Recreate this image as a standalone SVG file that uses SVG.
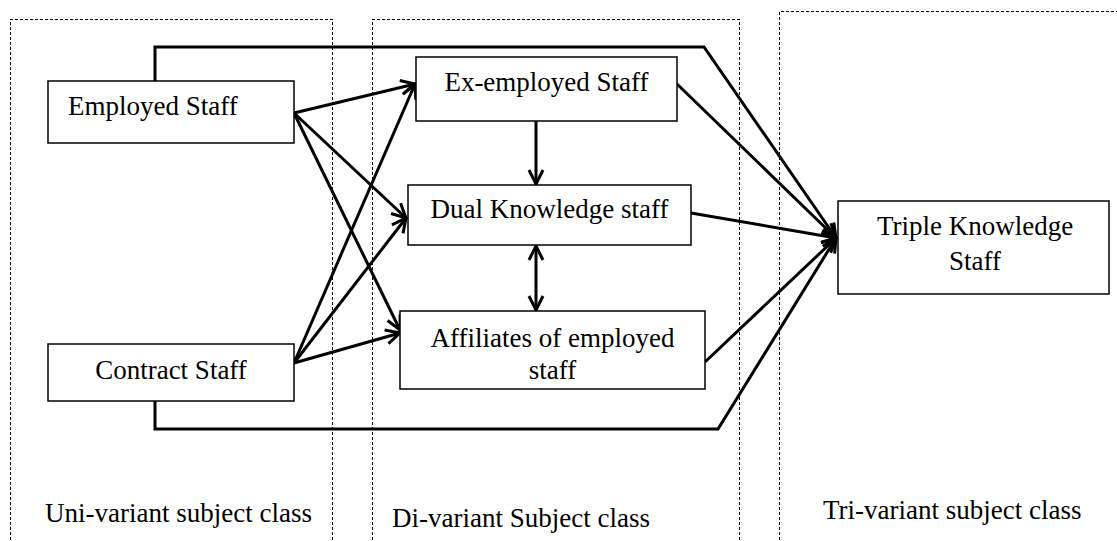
<svg xmlns="http://www.w3.org/2000/svg" width="1117" height="541" viewBox="0 0 1117 541">
<style>
.panel{fill:none;stroke:#000;stroke-width:1;stroke-dasharray:3 2;shape-rendering:crispEdges}
.box{fill:#fff;stroke:#000;stroke-width:1.5}
.t{font-family:"Liberation Serif","Times New Roman",serif;font-size:27px;fill:#000}
.c{fill:none;stroke:#000;stroke-width:3}
.a{marker-end:url(#arr)}
</style>
<defs>
<marker id="arr" viewBox="0 0 18 18" refX="16" refY="9" markerWidth="18" markerHeight="18" markerUnits="userSpaceOnUse" orient="auto-start-reverse">
<path d="M2,2 L16,9 L2,16" fill="none" stroke="#000" stroke-width="3"/>
</marker>
</defs>
<rect width="1117" height="541" fill="#fff"/>
<g id="panels">
<path class="panel" d="M10.5,545 V19.5 H332.5 V545"/>
<path class="panel" d="M372.5,545 V19.5 H739.5 V545"/>
<path class="panel" d="M779.5,545 V11.5 H1120"/>
<text class="t" x="45" y="522">Uni-variant subject class</text>
<text class="t" x="392" y="527">Di-variant Subject class</text>
<text class="t" x="823" y="519">Tri-variant subject class</text>
</g>
<g id="connectors">
<polyline class="c a" points="155,81 155,47 704,47 836,238"/>
<polyline class="c a" points="155,401 155,429 718,429 836,238"/>
<line class="c a" x1="294" y1="113" x2="415" y2="84"/>
<line class="c a" x1="294" y1="113" x2="406" y2="218"/>
<line class="c a" x1="294" y1="113" x2="400" y2="330"/>
<line class="c a" x1="294" y1="363" x2="415" y2="84"/>
<line class="c a" x1="294" y1="363" x2="406" y2="218"/>
<line class="c a" x1="294" y1="363" x2="400" y2="333"/>
<line class="c a" x1="677" y1="84" x2="836" y2="238"/>
<line class="c a" x1="691" y1="213" x2="836" y2="238"/>
<line class="c a" x1="705" y1="362" x2="836" y2="238"/>
<line class="c a" x1="536" y1="121" x2="536" y2="184"/>
<line class="c a" x1="536" y1="246" x2="536" y2="310" marker-start="url(#arr)"/>
</g>
<g id="employed">
<rect class="box" x="48" y="81" width="246" height="62"/>
<text class="t" x="68" y="115">Employed Staff</text>
</g>
<g id="contract">
<rect class="box" x="48" y="344" width="246" height="57"/>
<text class="t" x="171" y="379" text-anchor="middle">Contract Staff</text>
</g>
<g id="exemployed">
<rect class="box" x="416" y="57" width="261" height="64"/>
<text class="t" x="546.5" y="91" text-anchor="middle">Ex-employed Staff</text>
</g>
<g id="dual">
<rect class="box" x="408" y="185" width="283" height="60"/>
<text class="t" x="549.5" y="218" text-anchor="middle">Dual Knowledge staff</text>
</g>
<g id="affiliates">
<rect class="box" x="400" y="311" width="305" height="78"/>
<text class="t" x="552.5" y="347" text-anchor="middle">Affiliates of employed</text>
<text class="t" x="552.5" y="379" text-anchor="middle">staff</text>
</g>
<g id="triple">
<rect class="box" x="838" y="201" width="271" height="93"/>
<text class="t" x="975" y="235" text-anchor="middle">Triple Knowledge</text>
<text class="t" x="975" y="270" text-anchor="middle">Staff</text>
</g>
</svg>
